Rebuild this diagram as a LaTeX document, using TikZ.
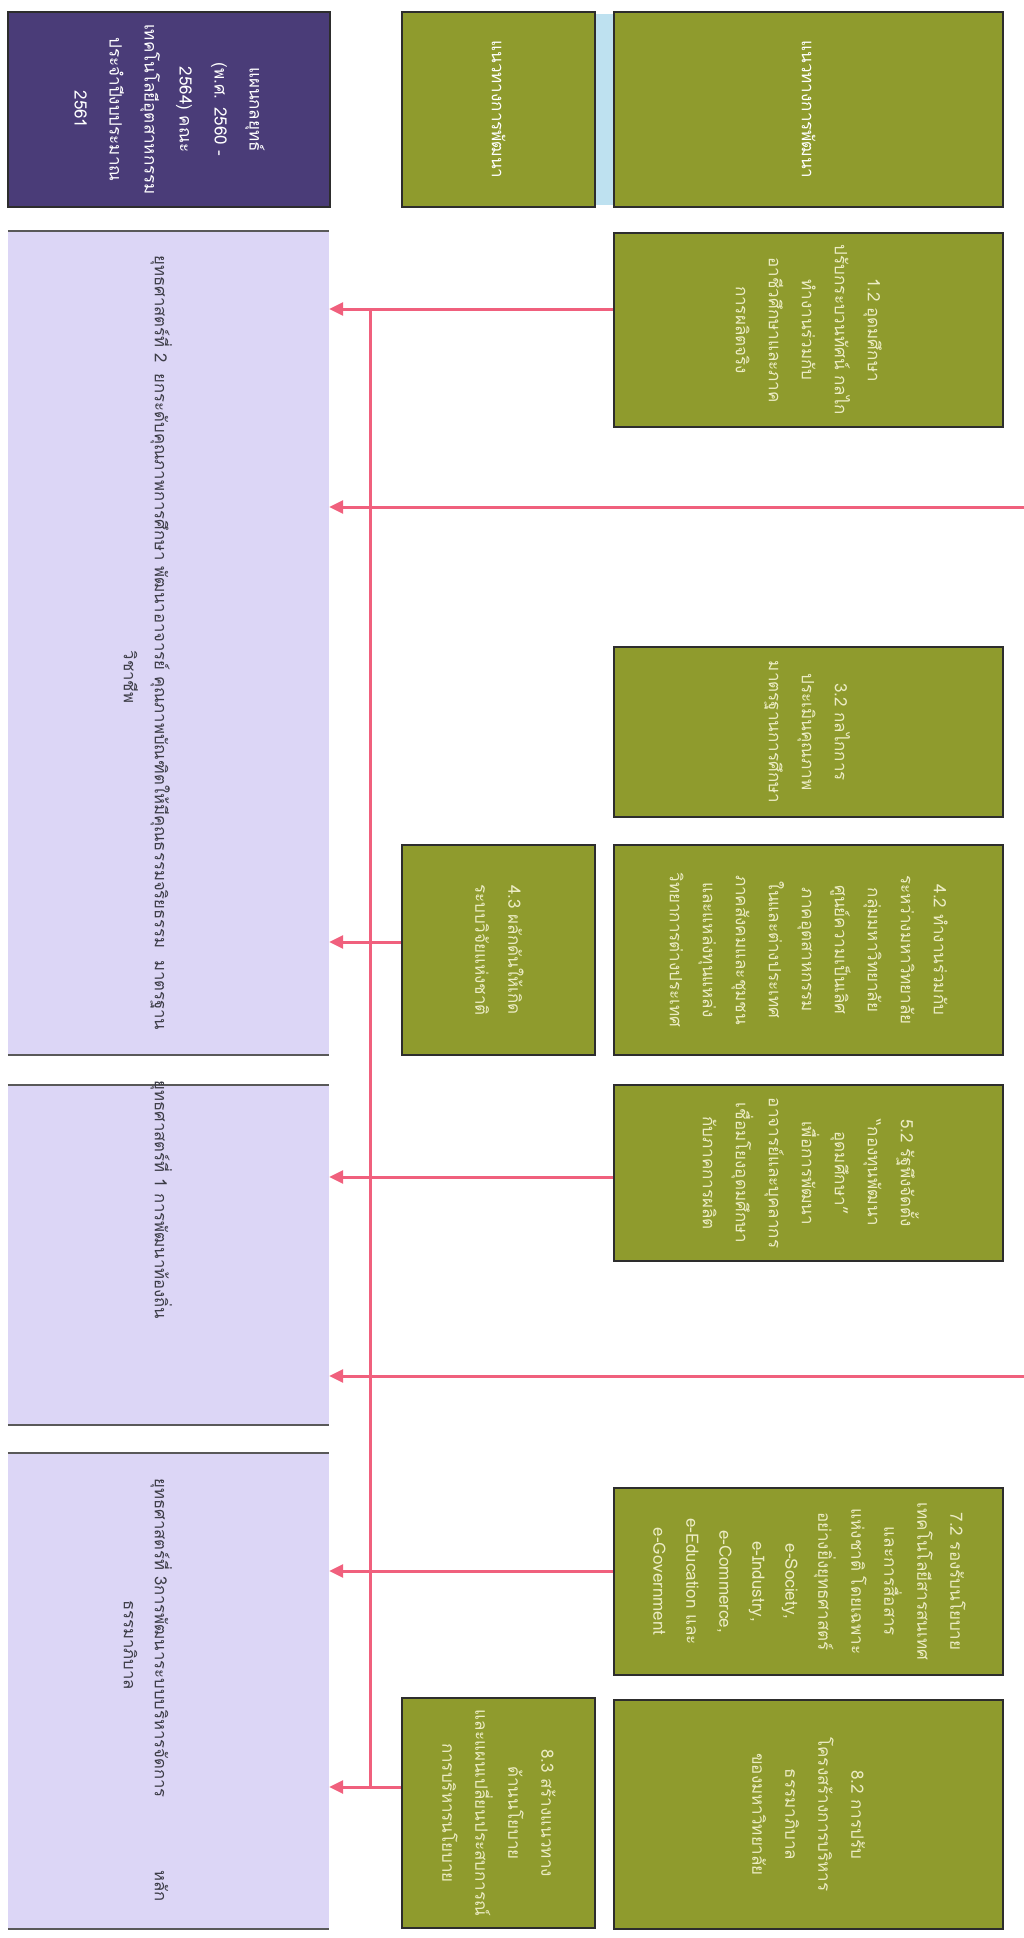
\documentclass[tikz,border=0pt]{standalone}
\usepackage{fontspec}
\setmainfont{Loma}[Script=Thai]
\usepackage{graphicx}
\usetikzlibrary{arrows.meta}
\definecolor{purplebox}{RGB}{74,60,120}
\definecolor{olivebox}{RGB}{143,155,45}
\definecolor{lavbox}{RGB}{220,214,246}
\definecolor{stripblue}{RGB}{190,225,240}
\definecolor{linkred}{RGB}{240,96,125}
\definecolor{gtext}{RGB}{236,236,196}
\definecolor{boxline}{RGB}{45,45,45}
\definecolor{lavtextc}{RGB}{60,60,70}
\newcommand{\vtext}[1]{\rotatebox{-90}{\begin{tabular}{@{}c@{}}#1\end{tabular}}}
\begin{document}
\begin{tikzpicture}[x=1pt,y=-1pt,
  gbox/.style={draw=boxline,line width=2.5pt,fill=olivebox,text=gtext,inner sep=0pt,
    font=\fontsize{17pt}{33pt}\selectfont},
  hbox/.style={gbox,text=white},
  pbox/.style={draw=boxline,line width=2.5pt,fill=purplebox,text=white,inner sep=0pt,
    font=\fontsize{17pt}{35pt}\selectfont},
  lbox/.style={draw=none,fill=lavbox,inner sep=0pt,minimum width=321pt},
  ltext/.style={text=lavtextc,inner sep=0pt,font=\fontsize{16.7pt}{31pt}\selectfont},
  conn/.style={draw=linkred,line width=3pt,-{Triangle[length=14pt,width=13pt]}},
  trunk/.style={draw=linkred,line width=3pt}]
\useasboundingbox[fill=white] (0,0) rectangle (1024,1938);

% header row
\node[draw=none,fill=stripblue,minimum width=20pt,minimum height=191pt] (strip) at (604.5,109.5) {};
\node[pbox,minimum width=322pt,minimum height=195pt] (plan) at (169,109.5)
  {\vtext{แผนกลยุทธ์\\(พ.ศ. 2560 -\\2564) คณะ\\เทคโนโลยีอุตสาหกรรม\\ประจำปีงบประมาณ\\2561}};
\node[hbox,minimum width=193pt,minimum height=195pt] (h1) at (498.5,109.5) {\vtext{แนวทางการพัฒนา}};
\node[hbox,minimum width=389pt,minimum height=195pt] (h2) at (808.5,109.5) {\vtext{แนวทางการพัฒนา}};

% lavender strategy boxes
\node[lbox,minimum height=824pt] (lav1) at (168.5,643) {};
\node[lbox,minimum height=340pt] (lav2) at (168.5,1255) {};
\node[lbox,minimum height=476pt] (lav3) at (168.5,1691) {};
\foreach \b in {lav1,lav2,lav3}{
  \draw[gray!70!black,line width=1.5pt] (\b.north west) -- (\b.north east);
  \draw[gray!70!black,line width=1.5pt] (\b.south west) -- (\b.south east);
}
\node[ltext] (lav1t) at (145.5,643)
  {\vtext{ยุทธศาสตร์ที่ 2 \ ยกระดับคุณภาพการศึกษา พัฒนาอาจารย์ คุณภาพบัณฑิตให้มีคุณธรรมจริยธรรม \ มาตรฐาน\\\hspace*{68pt}วิชาชีพ}};
\node[ltext] (lav2t) at (161,1200)
  {\vtext{ยุทธศาสตร์ที่ 1 การพัฒนาท้องถิ่น}};
\node[ltext] (lav3t) at (145.5,1690)
  {\vtext{ยุทธศาสตร์ที่ 3การพัฒนาระบบบริหารจัดการ \qquad\qquad หลัก\\ธรรมาภิบาล\hspace*{90pt}}};

% right column
\node[gbox,minimum width=389pt,minimum height=194pt] (g12) at (808.5,330)
  {\vtext{1.2 อุดมศึกษา\\ปรับกระบวนทัศน์ กลไก\\ทำงานร่วมกับ\\อาชีวศึกษาและภาค\\การผลิตจริง}};
\node[gbox,minimum width=389pt,minimum height=170pt] (g32) at (808.5,732)
  {\vtext{3.2 กลไกการ\\ประเมินคุณภาพ\\มาตรฐานการศึกษา}};
\node[gbox,minimum width=389pt,minimum height=210pt] (g42) at (808.5,950)
  {\vtext{4.2 ทำงานร่วมกับ\\ระหว่างมหาวิทยาลัย\\กลุ่มมหาวิทยาลัย\\ศูนย์ความเป็นเลิศ\\ภาคอุตสาหกรรม\\ในและต่างประเทศ\\ภาคสังคมและชุมชน\\และแหล่งทุนแหล่ง\\วิทยาการต่างประเทศ}};
\node[gbox,minimum width=389pt,minimum height=176pt] (g52) at (808.5,1173)
  {\vtext{5.2 รัฐพึงจัดตั้ง\\“กองทุนพัฒนา\\อุดมศึกษา”\\เพื่อการพัฒนา\\อาจารย์และบุคลากร\\เชื่อมโยงอุดมศึกษา\\กับภาคการผลิต}};
\node[gbox,minimum width=389pt,minimum height=187pt] (g72) at (808.5,1581.5)
  {\vtext{7.2 รองรับนโยบาย\\เทคโนโลยีสารสนเทศ\\และการสื่อสาร\\แห่งชาติ โดยเฉพาะ\\อย่างยิ่งยุทธศาสตร์\\e-Society,\\e-Industry,\\e-Commerce,\\e-Education และ\\e-Government}};
\node[gbox,minimum width=389pt,minimum height=229pt] (g82) at (808.5,1814.5)
  {\vtext{8.2 การปรับ\\โครงสร้างการบริหาร\\ธรรมาภิบาล\\ของมหาวิทยาลัย}};

% middle column
\node[gbox,minimum width=193pt,minimum height=210pt] (g43) at (498.5,950)
  {\vtext{4.3 ผลักดันให้เกิด\\ระบบวิจัยแห่งชาติ}};
\node[gbox,minimum width=193pt,minimum height=230pt] (g83) at (498.5,1813)
  {\vtext{8.3 สร้างแนวทาง\\ด้านนโยบาย\\และแผนเปลี่ยนประสบการณ์\\การบริหารนโยบาย}};

% connectors
\coordinate (r1) at (1024,507);
\coordinate (r2) at (1024,1376);
\coordinate (tt) at (370,309);
\coordinate (tb) at (370,1787);
\draw[trunk] (tt) -- (tb);
\draw[conn] (g12.west |- 0,309) -- (lav1.east |- 0,309);
\draw[conn] (r1) -- (lav1.east |- r1);
\draw[conn] (g43.west |- 0,942) -- (lav1.east |- 0,942);
\draw[conn] (g52.west |- 0,1177) -- (lav2.east |- 0,1177);
\draw[conn] (r2) -- (lav2.east |- r2);
\draw[conn] (g72.west |- 0,1571) -- (lav3.east |- 0,1571);
\draw[conn] (g83.west |- tb) -- (lav3.east |- tb);
\end{tikzpicture}
\end{document}
